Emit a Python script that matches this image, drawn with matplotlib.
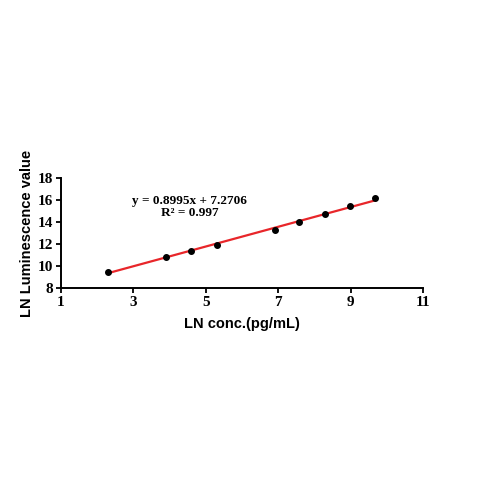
import matplotlib.pyplot as plt
import numpy as np

# data
ln_conc = [2.29, 3.91, 4.60, 5.30, 6.91, 7.59, 8.30, 8.98, 9.67]
ln_lum = [9.48, 10.82, 11.33, 11.94, 13.30, 14.05, 14.78, 15.45, 16.15]
slope = 0.8995
intercept = 7.2706
x_ticks = [1, 3, 5, 7, 9, 11]
y_ticks = [8, 10, 12, 14, 16, 18]

fig = plt.figure(figsize=(4.79, 4.79), dpi=100)
ax = fig.add_axes([0.127, 0.399, 0.756, 0.229])

# fitted line
fit_x = np.array([ln_conc[0], ln_conc[-1]])
ax.plot(fit_x, slope * fit_x + intercept, color="#e8262a", lw=1.6, zorder=2)
ax.scatter(ln_conc, ln_lum, s=16, color="black", zorder=3)

ax.set_xlim(1, 11)
ax.set_ylim(8, 18)
ax.set_xticks(x_ticks)
ax.set_yticks(y_ticks)

serif = {"family": "Liberation Serif", "weight": "bold", "size": 11}
ax.set_xticklabels([str(t) for t in x_ticks], fontdict=serif)
ax.set_yticklabels([str(t) for t in y_ticks], fontdict=serif)
ax.tick_params(direction="out", length=3.5, width=1.3, pad=2)

for s in ["top", "right"]:
    ax.spines[s].set_visible(False)
for s in ["left", "bottom"]:
    ax.spines[s].set_linewidth(1.4)

ax.set_xlabel("LN conc.(pg/mL)", family="Liberation Sans", weight="bold", size=10.5, labelpad=6)
ax.set_ylabel("LN Luminescence value", family="Liberation Sans", weight="bold", size=10.5, labelpad=3)

ax.text(4.56, 15.35, "y = 0.8995x + 7.2706\nR\u00b2 = 0.997", ha="center", va="center",
        family="Liberation Serif", weight="bold", size=9.5, linespacing=0.95)

fig.savefig("out.png", dpi=100)
